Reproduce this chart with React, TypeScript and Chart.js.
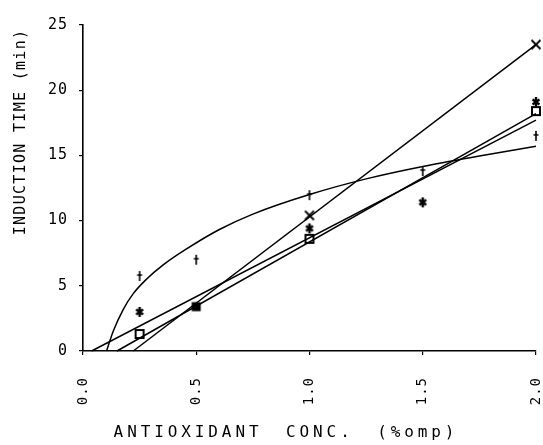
import React, { useEffect, useRef } from "react";
import { Chart, registerables } from "chart.js";

Chart.register(...registerables);

// Measured points
const plusConc = [0.25, 0.5, 1.0, 1.5, 2.0];
const plusTime = [5.75, 7.0, 11.95, 13.8, 16.5];
const crossConc = [1.0, 2.0];
const crossTime = [10.4, 23.5];
const starConc = [0.25, 1.0, 1.5, 2.0];
const starTime = [3.0, 9.4, 11.4, 19.1];
const squareConc = [0.25, 0.5, 1.0, 2.0];
const squareTime = [1.3, 3.4, 8.6, 18.4];

// Fitted lines / curve
const crossFitConc = [0.222, 2.0];
const crossFitTime = [0, 23.5];
const squareFitConc = [0.15, 2.0];
const squareFitTime = [0, 18.2];
const starFitConc = [0.038, 2.0];
const starFitTime = [0, 17.7];
const plusFitConc = [0.104, 0.133, 0.178, 0.222, 0.28, 0.354, 0.45, 0.6, 0.75, 1.0, 1.25, 1.5, 1.75, 2.0];
const plusFitTime = [0, 1.5, 3.2, 4.4, 5.5, 6.6, 7.75, 9.3, 10.5, 12.0, 13.2, 14.15, 14.95, 15.7];

const xTicks = [0, 0.5, 1.0, 1.5, 2.0];
const yTicks = [0, 5, 10, 15, 20, 25];
const xTitle = "ANTIOXIDANT CONC. (%omp)";
const yTitle = "INDUCTION TIME (min)";

const pts = (xs: number[], ys: number[]) => xs.map((x, i) => ({ x, y: ys[i] }));

function marker(kind: string): HTMLCanvasElement {
  const c = document.createElement("canvas");
  const s = 12;
  c.width = s;
  c.height = s;
  const g = c.getContext("2d")!;
  g.strokeStyle = "#000";
  g.fillStyle = "#000";
  g.lineCap = "butt";
  const m = s / 2;
  if (kind === "plus") {
    g.lineWidth = 1.6;
    g.beginPath();
    g.moveTo(m, 1);
    g.lineTo(m, 11);
    g.moveTo(m - 2.5, 5);
    g.lineTo(m + 2.5, 5);
    g.stroke();
  } else if (kind === "cross") {
    g.lineWidth = 1.8;
    g.beginPath();
    g.moveTo(1.5, 1.5);
    g.lineTo(10.5, 10.5);
    g.moveTo(10.5, 1.5);
    g.lineTo(1.5, 10.5);
    g.stroke();
  } else if (kind === "star") {
    g.lineWidth = 2.4;
    g.beginPath();
    g.moveTo(m, 1);
    g.lineTo(m, 11);
    g.moveTo(m - 3.5, 3.5);
    g.lineTo(m + 3.5, 8.5);
    g.moveTo(m + 3.5, 3.5);
    g.lineTo(m - 3.5, 8.5);
    g.stroke();
  } else if (kind === "square") {
    g.lineWidth = 2;
    g.strokeRect(2, 2, 8, 8);
  } else if (kind === "filled") {
    g.fillRect(1.5, 1.5, 9, 9);
  }
  return c;
}

const titlePlugin = {
  id: "plotTitles",
  beforeDraw(chart: any) {
    (chart.ctx as any).letterSpacing = "1px";
  },
  afterDraw(chart: any) {
    const ctx = chart.ctx;
    const a = chart.chartArea;
    ctx.save();
    ctx.fillStyle = "#000";
    ctx.font = '15px "DejaVu Sans Mono"';
    (ctx as any).letterSpacing = "1.3px";
    ctx.translate(a.left - 58, a.top + 107);
    ctx.rotate(-Math.PI / 2);
    ctx.textAlign = "center";
    ctx.textBaseline = "alphabetic";
    ctx.fillText(yTitle, 0, 0);
    ctx.restore();
    ctx.save();
    ctx.fillStyle = "#000";
    ctx.font = '16px "DejaVu Sans Mono"';
    (ctx as any).letterSpacing = "3.9px";
    (ctx as any).wordSpacing = "10px";
    ctx.textAlign = "center";
    ctx.textBaseline = "alphabetic";
    ctx.fillText(xTitle, a.left + 203, a.bottom + 86);
    ctx.restore();
  },
};

export default function App() {
  const ref = useRef<HTMLCanvasElement>(null);
  useEffect(() => {
    const line = (xs: number[], ys: number[], extra: any = {}) => ({
      type: "scatter",
      data: pts(xs, ys),
      showLine: true,
      borderColor: "#000",
      borderWidth: 1.5,
      pointRadius: 0,
      fill: false,
      order: 2,
      ...extra,
    });
    const mk = (xs: number[], ys: number[], style: any) => ({
      type: "scatter",
      data: pts(xs, ys),
      showLine: false,
      pointStyle: style,
      pointRadius: 6,
      order: 1,
    });
    const sq = marker("square");
    const fsq = marker("filled");
    const chart = new Chart(ref.current!, {
      type: "scatter",
      data: {
        datasets: [
          line(crossFitConc, crossFitTime),
          line(squareFitConc, squareFitTime),
          line(starFitConc, starFitTime),
          line(plusFitConc, plusFitTime, { tension: 0.4, cubicInterpolationMode: "monotone" }),
          mk(plusConc, plusTime, marker("plus")),
          mk(crossConc, crossTime, marker("cross")),
          mk(starConc, starTime, marker("star")),
          mk(squareConc, squareTime, squareConc.map((c) => (c === 0.5 ? fsq : sq))),
        ] as any,
      },
      options: {
        responsive: false,
        animation: false,
        clip: false as any,
        layout: { padding: { top: 25, right: 4, left: 0, bottom: 0 } },
        plugins: { legend: { display: false }, tooltip: { enabled: false }, title: { display: false } },
        scales: {
          x: {
            type: "linear",
            min: 0,
            max: 2,
            afterBuildTicks: (s: any) => {
              s.ticks = xTicks.map((v) => ({ value: v }));
            },
            afterFit: (s: any) => {
              s.height = 94;
              s.paddingLeft = 0;
              s.paddingRight = 0;
            },
            ticks: {
              color: "#000",
              font: { family: "DejaVu Sans Mono", size: 14 },
              minRotation: 90,
              maxRotation: 90,
              padding: 22,
              callback: (v: any) => Number(v).toFixed(1),
            },
            grid: { drawOnChartArea: false, color: "#000", tickLength: 4, lineWidth: 1.2 },
            border: { display: true, color: "#000", width: 1.6 },
          },
          y: {
            type: "linear",
            min: 0,
            max: 25,
            afterBuildTicks: (s: any) => {
              s.ticks = yTicks.map((v) => ({ value: v }));
            },
            afterFit: (s: any) => {
              s.width = 83;
              s.paddingTop = 0;
              s.paddingBottom = 0;
            },
            ticks: {
              color: "#000",
              font: { family: "DejaVu Sans Mono", size: 15 },
              padding: 11,
              callback: (v: any) => String(v),
            },
            grid: { drawOnChartArea: false, color: "#000", tickLength: 4, lineWidth: 1.2 },
            border: { display: true, color: "#000", width: 1.6 },
          },
        },
      },
      plugins: [titlePlugin],
    } as any);
    return () => chart.destroy();
  }, []);
  return (
    <div style={{ position: "fixed", left: 0, top: 0, width: 543, height: 445, background: "#fff" }}>
      <canvas ref={ref} width={543} height={445} style={{ width: 543, height: 445 }} />
    </div>
  );
}
